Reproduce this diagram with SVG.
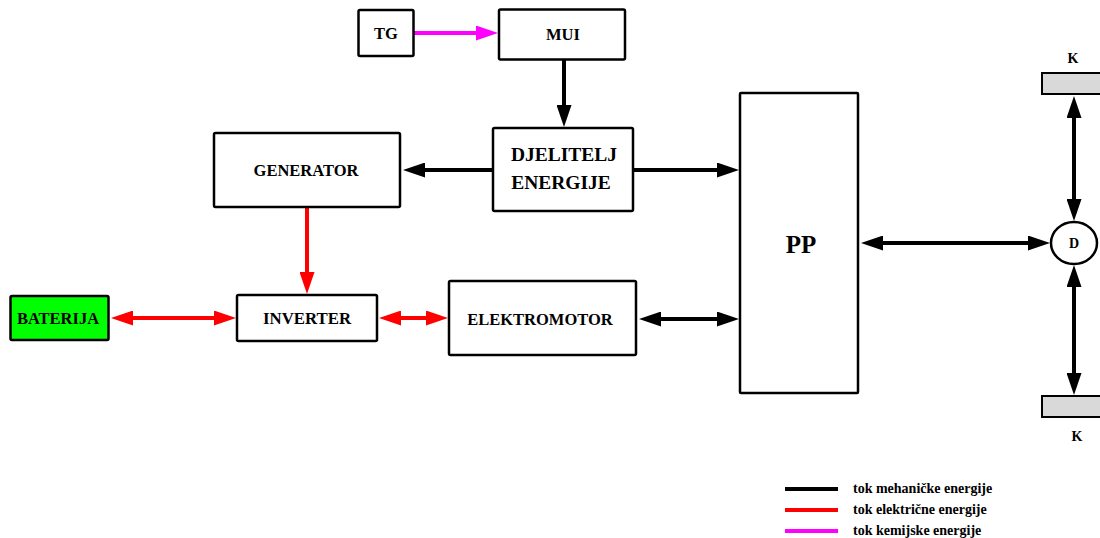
<svg xmlns="http://www.w3.org/2000/svg" width="1100" height="538" viewBox="0 0 1100 538">
<style>
.box{fill:#fff;stroke:#000;stroke-width:2.5}
.t{font-family:"Liberation Serif","Times New Roman",serif;font-weight:bold;fill:#000;text-anchor:middle}
.m{stroke:#000;stroke-width:4;fill:none}
.e{stroke:#ff0000;stroke-width:4;fill:none}
.c{stroke:#ff00ff;stroke-width:4;fill:none}
.lg{font-family:"Liberation Serif","Times New Roman",serif;font-weight:bold;font-size:14px;fill:#000}
</style>
<defs>
<marker id="ab" markerUnits="userSpaceOnUse" viewBox="0 0 22 15" markerWidth="22" markerHeight="15" refX="1" refY="7.5" orient="auto-start-reverse"><path d="M0,0 L22,7.5 L0,15 z" fill="#000"/></marker>
<marker id="ar" markerUnits="userSpaceOnUse" viewBox="0 0 22 15" markerWidth="22" markerHeight="15" refX="1" refY="7.5" orient="auto-start-reverse"><path d="M0,0 L22,7.5 L0,15 z" fill="#ff0000"/></marker>
<marker id="am" markerUnits="userSpaceOnUse" viewBox="0 0 22 15" markerWidth="22" markerHeight="15" refX="1" refY="7.5" orient="auto-start-reverse"><path d="M0,0 L22,7.5 L0,15 z" fill="#ff00ff"/></marker>
</defs>
<g id="connectors">
<line class="c" x1="413" y1="33" x2="477" y2="33" marker-end="url(#am)"/>
<line class="m" x1="564" y1="60" x2="564" y2="106" marker-end="url(#ab)"/>
<line class="m" x1="493" y1="170" x2="424" y2="170" marker-end="url(#ab)"/>
<line class="m" x1="633" y1="170" x2="718" y2="170" marker-end="url(#ab)"/>
<line class="m" x1="660" y1="319" x2="718" y2="319" marker-start="url(#ab)" marker-end="url(#ab)"/>
<line class="m" x1="882" y1="243" x2="1029" y2="243" marker-start="url(#ab)" marker-end="url(#ab)"/>
<line class="m" x1="1074" y1="117" x2="1074" y2="200" marker-start="url(#ab)" marker-end="url(#ab)"/>
<line class="m" x1="1074" y1="286" x2="1074" y2="374" marker-start="url(#ab)" marker-end="url(#ab)"/>
<line class="e" x1="307" y1="207" x2="307" y2="273" marker-end="url(#ar)"/>
<line class="e" x1="132" y1="318" x2="215" y2="318" marker-start="url(#ar)" marker-end="url(#ar)"/>
<line class="e" x1="400" y1="318" x2="427" y2="318" marker-start="url(#ar)" marker-end="url(#ar)"/>
</g>
<g id="TG"><rect class="box" x="358.5" y="10" width="55" height="46" rx="1.5"/><text class="t" x="386" y="38.5" font-size="16.5">TG</text></g>
<g id="MUI"><rect class="box" x="499" y="9.5" width="126" height="50" rx="1.5"/><text class="t" x="563" y="39.5" font-size="16.5">MUI</text></g>
<g id="DJELITELJ"><rect class="box" x="493" y="128" width="140" height="83" rx="1.5"/><text class="t" x="564" y="161" font-size="19.5">DJELITELJ</text><text class="t" x="561" y="189" font-size="19.5">ENERGIJE</text></g>
<g id="GENERATOR"><rect class="box" x="214" y="133" width="186" height="74" rx="1.5"/><text class="t" x="306" y="176" font-size="16.5">GENERATOR</text></g>
<g id="PP"><rect class="box" x="740" y="93" width="118" height="300" rx="1"/><text class="t" x="801" y="253" font-size="25">PP</text></g>
<g id="ELEKTROMOTOR"><rect class="box" x="449" y="281" width="187" height="74" rx="1.5"/><text class="t" x="540" y="325" font-size="16.5">ELEKTROMOTOR</text></g>
<g id="INVERTER"><rect class="box" x="237" y="295" width="140" height="46" rx="1.5"/><text class="t" x="307" y="324" font-size="16.8">INVERTER</text></g>
<g id="BATERIJA"><rect class="box" x="10.5" y="296" width="98" height="44" rx="1.5" style="fill:#00ff00"/><text class="t" x="58" y="323.5" font-size="16.5">BATERIJA</text></g>
<g id="D"><ellipse class="box" cx="1074" cy="243" rx="23" ry="21"/><text class="t" x="1074" y="248" font-size="14">D</text></g>
<g id="K-top"><rect x="1042" y="73" width="62" height="21" fill="#d9d9d9" stroke="#000" stroke-width="2"/><text class="t" x="1073" y="63" font-size="14">K</text></g>
<g id="K-bottom"><rect x="1042" y="396" width="62" height="21" fill="#d9d9d9" stroke="#000" stroke-width="2"/><text class="t" x="1077" y="441" font-size="14">K</text></g>
<g id="legend">
<line class="m" x1="785" y1="489" x2="838" y2="489"/>
<line class="e" x1="785" y1="510" x2="838" y2="510"/>
<line class="c" x1="785" y1="531" x2="838" y2="531"/>
<text class="lg" x="853" y="493">tok mehaničke energije</text>
<text class="lg" x="853" y="514">tok električne energije</text>
<text class="lg" x="853" y="535">tok kemijske energije</text>
</g>
</svg>
